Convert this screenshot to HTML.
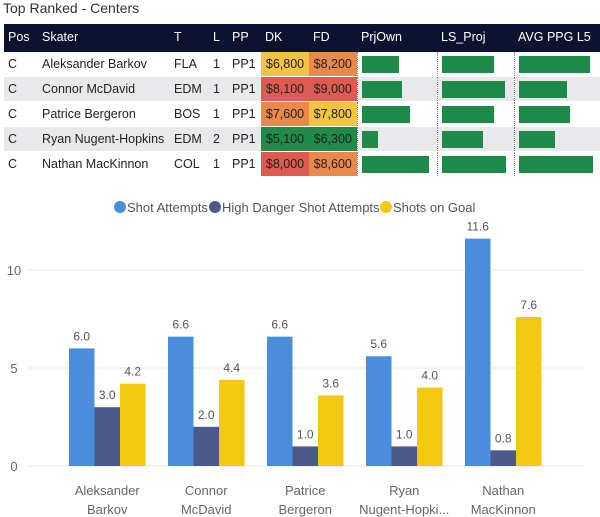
<!DOCTYPE html>
<html><head><meta charset="utf-8"><style>
body{margin:0;width:600px;height:517px;background:#fff;font-family:"Liberation Sans",sans-serif;overflow:hidden;position:relative}
.title{position:absolute;left:3px;top:0;font-size:14px;color:#333}
table{position:absolute;left:4px;top:24px;border-collapse:collapse;font-size:12.5px;color:#222;width:596px}
th{background:#0c1330;color:#fff;font-weight:normal;text-align:left;height:26px;padding:0 0 0 4px;border-bottom:2px solid #0c1330}
td{height:24px;padding:0 0 0 4px;border-top:1px solid #fff}
tr.alt td{background:#e9e9ec}
td.c{padding:0 4px;text-align:center}
.bar{height:17px;background:#1e8a4a}
td.b{position:relative;border-left:1px dotted #888}
</style></head><body>
<div class="title">Top Ranked - Centers</div>
<table>
<colgroup><col style="width:34px"><col style="width:132px"><col style="width:39px"><col style="width:19px"><col style="width:33px"><col style="width:48px"><col style="width:48px"><col style="width:80px"><col style="width:77px"><col style="width:86px"></colgroup>
<thead><tr><th>Pos</th><th>Skater</th><th>T</th><th>L</th><th>PP</th><th>DK</th><th>FD</th><th>PrjOwn</th><th>LS_Proj</th><th>AVG PPG L5</th></tr></thead>
<tbody id="tb"></tbody></table>
<svg id="ch" width="600" height="517" style="position:absolute;left:0;top:0"></svg>
<script>
const rows=[["Aleksander Barkov","FLA",1,"$6,800","#f4c244","$8,200","#e9894e",37,52,71],
["Connor McDavid","EDM",1,"$8,100","#de5b52","$9,000","#de5b52",40,63,48],
["Patrice Bergeron","BOS",1,"$7,600","#e9894e","$7,800","#f4c244",48,52,51],
["Ryan Nugent-Hopkins","EDM",2,"$5,100","#1f8a4a","$6,300","#1f8a4a",16,41,36],
["Nathan MacKinnon","COL",1,"$8,000","#de5b52","$8,600","#e9894e",67,64,74]];
const tb=document.getElementById('tb');
rows.forEach((r,i)=>{const tr=document.createElement('tr');if(i%2)tr.className='alt';


tr.innerHTML=`<td>C</td><td>${r[0]}</td><td>${r[1]}</td><td>${r[2]}</td><td>PP1</td><td class="c" style="background:${r[4]}">${r[3]}</td><td class="c" style="background:${r[6]}">${r[5]}</td><td class="b"><div class="bar" style="width:${r[7]}px"></div></td><td class="b"><div class="bar" style="width:${r[8]}px"></div></td><td class="b"><div class="bar" style="width:${r[9]}px"></div></td>`;
tb.appendChild(tr);});
</script>
<script>
const categories=[["Aleksander","Barkov"],["Connor","McDavid"],["Patrice","Bergeron"],["Ryan","Nugent-Hopki..."],["Nathan","MacKinnon"]];
const shotAttempts=[6.0,6.6,6.6,5.6,11.6];
const highDanger=[3.0,2.0,1.0,1.0,0.8];
const shotsOnGoal=[4.2,4.4,3.6,4.0,7.6];
const yTicks=[0,5,10];
const seriesNames=["Shot Attempts","High Danger Shot Attempts","Shots on Goal"];
const NS="http://www.w3.org/2000/svg",svg=document.getElementById('ch');
const y=v=>466-v*19.6, x0=i=>69+i*99, bw=25.5;
function el(t,a,txt){const e=document.createElementNS(NS,t);for(const k in a)e.setAttribute(k,a[k]);if(txt!=null)e.textContent=txt;svg.appendChild(e);return e;}
yTicks.forEach(t=>{const g=el('line',{x1:28,x2:584,y1:y(t),y2:y(t),stroke:'#e6e6e6'});


const l=el('text',{x:14,y:y(t)+5,'font-size':13,fill:'#666','text-anchor':'middle'},t);

});
const cols=['#4a8ddc','#4a5a8a','#f2c811'];
[shotAttempts,highDanger,shotsOnGoal].forEach((s,si)=>s.forEach((v,i)=>{
const xx=x0(i)+si*bw;
const r=el('rect',{x:xx,y:y(v),width:bw,height:y(0)-y(v),fill:cols[si]});


const t=el('text',{x:xx+bw/2,y:y(v)-8,'font-size':12,fill:'#555','text-anchor':'middle'},v.toFixed(1));

}));
categories.forEach((c,i)=>{c.forEach((ln,j)=>{const t=el('text',{x:x0(i)+bw*1.5,y:495+j*19,'font-size':13,fill:'#666','text-anchor':'middle'},ln);

});});
let lx=114;seriesNames.forEach((n,i)=>{const c=el('circle',{cx:lx+6,cy:207,r:6,fill:cols[i]});


const t=el('text',{x:lx+13,y:212,'font-size':13,fill:'#555'},n);


lx+=[95,171,0][i];});
</script>
</body></html>
